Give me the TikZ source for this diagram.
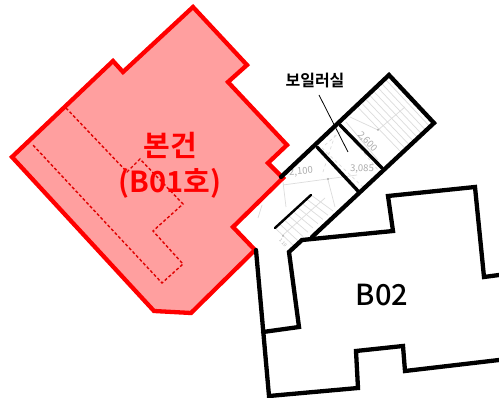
\documentclass[tikz,border=0pt]{standalone}
\usepackage{fontspec}
\usetikzlibrary{calc}
\setmainfont{Noto Sans CJK KR}[BoldFont={Noto Sans CJK KR Medium}]
\newfontfamily\heavykr{Noto Sans CJK KR Bold}
\definecolor{redfill}{HTML}{FF9F9F}
\definecolor{faint}{HTML}{DCDCDC}
\definecolor{dimgray}{HTML}{ABABAB}
\tikzset{
  wall/.style={line width=4.3pt,black,line join=miter,line cap=round},
  redwall/.style={line width=4.3pt,red,line join=miter,fill=redfill},
  reddot/.style={line width=1.4pt,red!88!black,dash pattern=on 3pt off 2.2pt},
  tread/.style={line width=0.7pt,faint},
  dimtext/.style={text=dimgray,font=\fontsize{9.5}{10}\selectfont,inner sep=0pt},
  bigred/.style={text=red,align=center,inner sep=0pt,font=\fontsize{29}{36}\selectfont\heavykr},
}
\begin{document}
\begin{tikzpicture}[x=1pt,y=-1pt]
\useasboundingbox[fill=white] (0,0) rectangle (499,398);
% faint drawing details of the stair core
\foreach \t in {0.36,0.44,...,0.98}{
  \draw[tread] ($(340,125)!\t!(389,75)$) -- ($(382,168)!\t!(434,123)$);
}
\foreach \t in {0,0.125,...,1}{
  \draw[tread] ($(275,228)!\t!(311,195)$) -- ($(293,245)!\t!(333,211)$);
}
\draw[tread] (283,235) -- (325,198) (283,185) -- (357,175) (283,182) -- (286,207)
  (328,180) -- (335,207) (262,205) -- (258,218)
  (350,117) -- (378,130) -- (405,107) (346,122) -- (378,160);
\draw[tread,dashed] (322,148) -- (366,190) (335,135) -- (322,175) (345,130) -- (378,170)
  (325,145) -- (345,128);
\fill[dimgray] (328,179) circle (1.2pt) (283,236) circle (1pt) (378,130) circle (1pt);
\node[dimtext,rotate=5] (d1) at (301,172) {2,100};
\node[dimtext,rotate=-2] (d2) at (362,169) {3,085};
\node[dimtext,rotate=-47] (d3) at (367,142) {2,600};
\node[dimtext,font=\fontsize{4.5}{5}\selectfont,rotate=-47] (d4) at (283,243) {1 10};
% red main building
\draw[redwall] (193,7) -- (247,65) -- (228,82) -- (287,145) -- (268,163) -- (283,178)
  -- (233,227) -- (255,250) -- (191,313) -- (154,311) -- (12,157) -- (113,61) -- (123,72) -- cycle;
\draw[reddot] (66,108) -- (127,172) -- (140,159) -- (183,204) -- (153,231) -- (183,264)
  -- (162,283) -- (32,144);
\node[bigred] (main) at (170,165) {본건\\(B01호)};
% B02 unit and stair walls
\draw[wall] (281,177) -- (389,75) -- (434,123) -- (312,237);
\draw[wall,line width=3.4pt] (317,147) -- (358,191) (340,125) -- (382,168);
\draw[wall,line width=2.4pt] (275,228) -- (311,195);
\draw[wall] (256,250) -- (269,396) -- (358,388) -- (356,351) -- (403,346) -- (405,371) -- (499,360);
\draw[wall] (499,275) -- (484,277) -- (475,187) -- (388,196) -- (393,231) -- (302,240) -- (289,252) -- (299,327) -- (263,332);
\node[inner sep=0pt,font=\fontsize{29}{29}\selectfont\bfseries] (b02) at (382,295) {B02};
% boiler room label
\node[inner sep=0pt,font=\fontsize{16}{16}\selectfont\heavykr] (boiler) at (315,81) {보일러실};
\coordinate (leaderend) at (348,152);
\draw[line width=0.8pt] (319,95) -- (leaderend);
\end{tikzpicture}
\end{document}
